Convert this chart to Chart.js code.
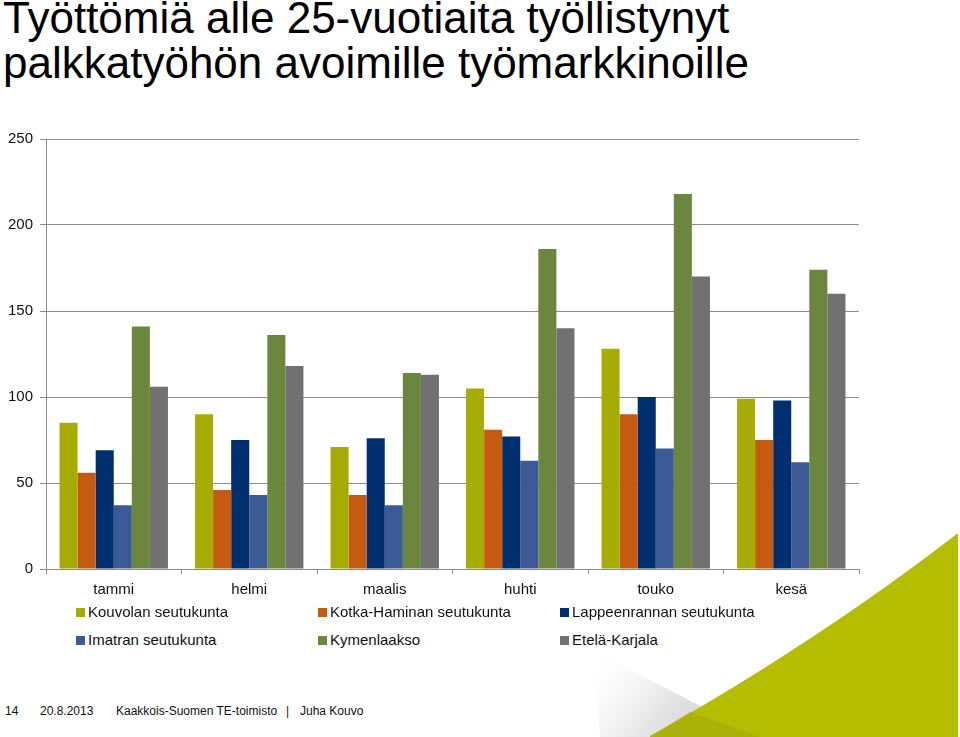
<!DOCTYPE html>
<html>
<head>
<meta charset="utf-8">
<script src="https://cdn.jsdelivr.net/npm/chart.js@4"></script>
<style>
  body { margin: 0; width: 960px; height: 737px; overflow: hidden; background: #fff; font-family: "Liberation Sans", Arial, sans-serif; position: relative; }
  #bg { position: absolute; left: 0; top: 0; }
  #otsikko { position: absolute; left: 3px; top: -5px; font-size: 44px; line-height: 45px; color: #000; white-space: nowrap; }
  #kaavio { position: absolute; left: 0; top: 120px; }
  #selite { position: absolute; left: 76px; top: 603px; width: 800px; }
  .rivi { position: absolute; white-space: nowrap; font-size: 15px; color: #111; }
  .rivi span.ruutu { display: inline-block; width: 9px; height: 9px; margin-right: 3px; vertical-align: 0px; }
  #alatunniste { position: absolute; left: 0; top: 704px; font-size: 12px; color: #111; white-space: nowrap; }
</style>
</head>
<body>
<svg id="bg" width="960" height="737">
  <defs>
    <linearGradient id="harmaa" x1="0" y1="0" x2="1" y2="0.4">
      <stop offset="0" stop-color="#ffffff" stop-opacity="0"/>
      <stop offset="0.6" stop-color="#e4e4e4" stop-opacity="1"/>
      <stop offset="1" stop-color="#cfcfcf" stop-opacity="1"/>
    </linearGradient>
  </defs>
  <polygon points="592,650 760,737 600,737" fill="url(#harmaa)"/>
  <path d="M650,736 Q820,640 958,533 L958,737 L650,737 Z" fill="#b5bd00"/>
  <polygon points="690,712 760,737 650,737" fill="#a4aa10" opacity="0.6"/>
</svg>

<div id="otsikko">Työttömiä alle 25-vuotiaita työllistynyt<br>palkkatyöhön avoimille työmarkkinoille</div>

<canvas id="kaavio" width="870" height="485"></canvas>

<div id="selite"></div>

<div id="alatunniste">
  <span style="position:absolute;left:5px">14</span>
  <span style="position:absolute;left:40px">20.8.2013</span>
  <span style="position:absolute;left:116px">Kaakkois-Suomen TE-toimisto</span>
  <span style="position:absolute;left:286px">|</span>
  <span style="position:absolute;left:300px">Juha Kouvo</span>
</div>

<script>
const kuukaudet = ["tammi", "helmi", "maalis", "huhti", "touko", "kesä"];
const alueet = ["Kouvolan seutukunta", "Kotka-Haminan seutukunta", "Lappeenrannan seutukunta",
                "Imatran seutukunta", "Kymenlaakso", "Etelä-Karjala"];
const kouvola = [85, 90, 71, 105, 128, 99];
const kotkaHamina = [56, 46, 43, 81, 90, 75];
const lappeenranta = [69, 75, 76, 77, 100, 98];
const imatra = [37, 43, 37, 63, 70, 62];
const kymenlaakso = [141, 136, 114, 186, 218, 174];
const etelaKarjala = [106, 118, 113, 140, 170, 160];
const yTicks = [0, 50, 100, 150, 200, 250];

const varit = ["#a5ac03", "#c55a11", "#002f6f", "#3c5a96", "#6b873d", "#717171"];
const sarjat = [kouvola, kotkaHamina, lappeenranta, imatra, kymenlaakso, etelaKarjala];

Chart.defaults.font.family = '"Liberation Sans", Arial, sans-serif';
Chart.defaults.color = "#222";

const ctx = document.getElementById("kaavio").getContext("2d");
const kaavio = new Chart(ctx, {
  type: "bar",
  data: {
    labels: kuukaudet,
    datasets: sarjat.map((d, i) => ({
      label: alueet[i],
      data: d,
      backgroundColor: varit[i],
      borderWidth: 0,
      categoryPercentage: 0.8,
      barPercentage: 1.0,
    })),
  },
  options: {
    responsive: false,
    animation: false,
    layout: { padding: { top: 19, right: 11, left: 0, bottom: 0 } },
    plugins: { legend: { display: false }, tooltip: { enabled: false } },
    scales: {
      x: {
        grid: { drawOnChartArea: false, drawTicks: true, tickLength: 5, color: "#8c8c8c", offset: true },
        border: { color: "#8c8c8c", width: 1 },
        ticks: { font: { size: 15 }, padding: 7, color: "#111" },
        afterFit: (s) => { s.height = 36; },
      },
      y: {
        min: 0,
        max: 250,
        afterBuildTicks: (s) => { s.ticks = yTicks.map((v) => ({ value: v })); },
        grid: { color: "#8c8c8c", lineWidth: 1, tickLength: 6 },
        border: { color: "#8c8c8c", width: 1 },
        ticks: { font: { size: 15 }, padding: 7, color: "#111" },
        afterFit: (s) => { s.width = 46; },
      },
    },
  },
});

// selite kolmeen sarakkeeseen
const selite = document.getElementById("selite");
kaavio.data.datasets.forEach((ds, i) => {
  const el = document.createElement("div");
  el.className = "rivi";
  el.style.left = (i % 3) * 242 + "px";
  el.style.top = Math.floor(i / 3) * 28 + "px";
  el.innerHTML = '<span class="ruutu" style="background:' + ds.backgroundColor + '"></span>' + ds.label;
  selite.appendChild(el);
});
</script>
</body>
</html>
